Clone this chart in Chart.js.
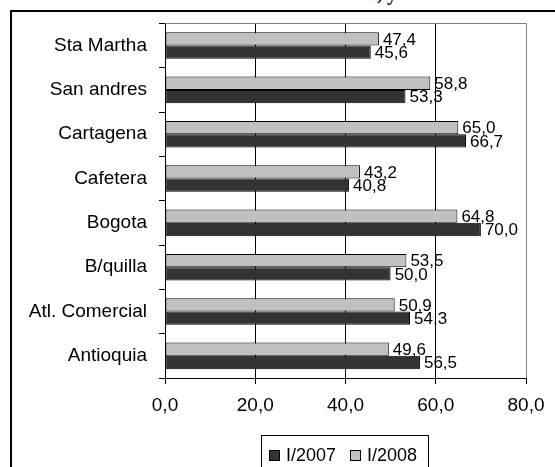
<!DOCTYPE html>
<html>
<head>
<meta charset="utf-8">
<script src="https://cdn.jsdelivr.net/npm/chart.js@4.4.1/dist/chart.umd.min.js"></script>
<style>
  body { margin: 0; background: #fff; overflow: hidden; }
  #wrap { position: relative; width: 555px; height: 467px; overflow: hidden; }
  #frame { position: absolute; left: 10px; top: 10px; width: 700px; height: 600px;
           border-left: 2px solid #000; border-top: 2px solid #000; }
  #title { position: absolute; left: 377px; top: -17px; font: bold 20px "Liberation Serif", serif;
           line-height: 20px; color: #000; white-space: nowrap; }
  #chart { position: absolute; left: 0; top: 0; }
  #legend { position: absolute; left: 261px; top: 435px; width: 168px; height: 40px;
            border: 1px solid #000; box-sizing: border-box; font: 18px "Liberation Sans", Arial, sans-serif;
            display: flex; align-items: flex-start; padding: 8px 0 0 7px; }
  .item { display: flex; align-items: center; margin-right: 14px; height: 22px; }
  .box { width: 9px; height: 9px; border: 1px solid #000; margin-right: 6px; }
</style>
</head>
<body>
<div id="wrap">
  <div id="frame"></div>
  <div id="title">, y</div>
  <canvas id="chart" width="555" height="467"></canvas>
  <div id="legend"></div>
</div>
<script>
var categories = ["Sta Martha", "San andres", "Cartagena", "Cafetera", "Bogota", "B/quilla", "Atl. Comercial", "Antioquia"];
var values2007 = [45.6, 53.3, 66.7, 40.8, 70.0, 50.0, 54.3, 56.5];
var values2008 = [47.4, 58.8, 65.0, 43.2, 64.8, 53.5, 50.9, 49.6];
var xTicks = [0, 20, 40, 60, 80];

function coma(v) {
  return v.toFixed(1).replace(".", ",");
}

// etiquetas de valor al final de cada barra
var valueLabels = {
  id: "valueLabels",
  afterDatasetsDraw: function(chart) {
    var ctx = chart.ctx;
    ctx.save();
    ctx.font = "17px 'Liberation Sans', Arial, sans-serif";
    ctx.fillStyle = "#000";
    ctx.textAlign = "left";
    ctx.textBaseline = "middle";
    chart.data.datasets.forEach(function(ds, i) {
      var meta = chart.getDatasetMeta(i);
      meta.data.forEach(function(bar, j) {
        ctx.fillText(coma(ds.data[j]), bar.x + 4, bar.y + 1);
      });
    });
    ctx.restore();
  }
};

// borde gris arriba del area de trazado
var plotBorder = {
  id: "plotBorder",
  beforeDatasetsDraw: function(chart) {
    var a = chart.chartArea, ctx = chart.ctx;
    ctx.save();
    ctx.strokeStyle = "#808080";
    ctx.lineWidth = 1;
    ctx.beginPath();
    ctx.moveTo(a.left, Math.round(a.top) + 0.5);
    ctx.lineTo(a.right, Math.round(a.top) + 0.5);
    ctx.stroke();
    ctx.restore();
  }
};

var chart = new Chart("chart", {
  type: "bar",
  data: {
    labels: categories,
    datasets: [
      { label: "I/2008", data: values2008, backgroundColor: "#c0c0c0", borderColor: "#000", borderWidth: 1, borderSkipped: false },
      { label: "I/2007", data: values2007, backgroundColor: "#333333", borderColor: "#000", borderWidth: 1, borderSkipped: false }
    ]
  },
  options: {
    indexAxis: "y",
    responsive: false,
    animation: false,
    categoryPercentage: 0.6,
    barPercentage: 1.0,
    layout: { padding: { top: 23, right: 29, left: 0, bottom: 0 } },
    plugins: { legend: { display: false }, tooltip: { enabled: false } },
    scales: {
      x: {
        min: 0, max: 80,
        afterBuildTicks: function(scale) {
          scale.ticks = xTicks.map(function(v) { return { value: v }; });
        },
        afterFit: function(scale) { scale.height = 89; },
        border: { color: "#000", width: 1 },
        grid: {
          color: function(c) { return c.tick && c.tick.value === 80 ? "#808080" : "#000"; },
          tickColor: "#000",
          tickLength: 6
        },
        ticks: {
          padding: 10,
          color: "#000",
          font: { family: "'Liberation Sans', Arial, sans-serif", size: 19 },
          callback: function(v) { return coma(v); }
        }
      },
      y: {
        afterFit: function(scale) { scale.width = 165; },
        border: { color: "#000", width: 1 },
        grid: { offset: true, drawOnChartArea: false, color: "#000", tickLength: 6 },
        ticks: {
          padding: 12,
          color: "#000",
          font: { family: "'Liberation Sans', Arial, sans-serif", size: 19 }
        }
      }
    }
  },
  plugins: [valueLabels, plotBorder]
});

// leyenda en html, en el orden de la original
var legend = document.getElementById("legend");
chart.data.datasets.slice().reverse().forEach(function(ds) {
  var item = document.createElement("div");
  item.className = "item";
  var box = document.createElement("span");
  box.className = "box";
  box.style.background = ds.backgroundColor;
  item.appendChild(box);
  item.appendChild(document.createTextNode(ds.label));
  legend.appendChild(item);
});
</script>
</body>
</html>
